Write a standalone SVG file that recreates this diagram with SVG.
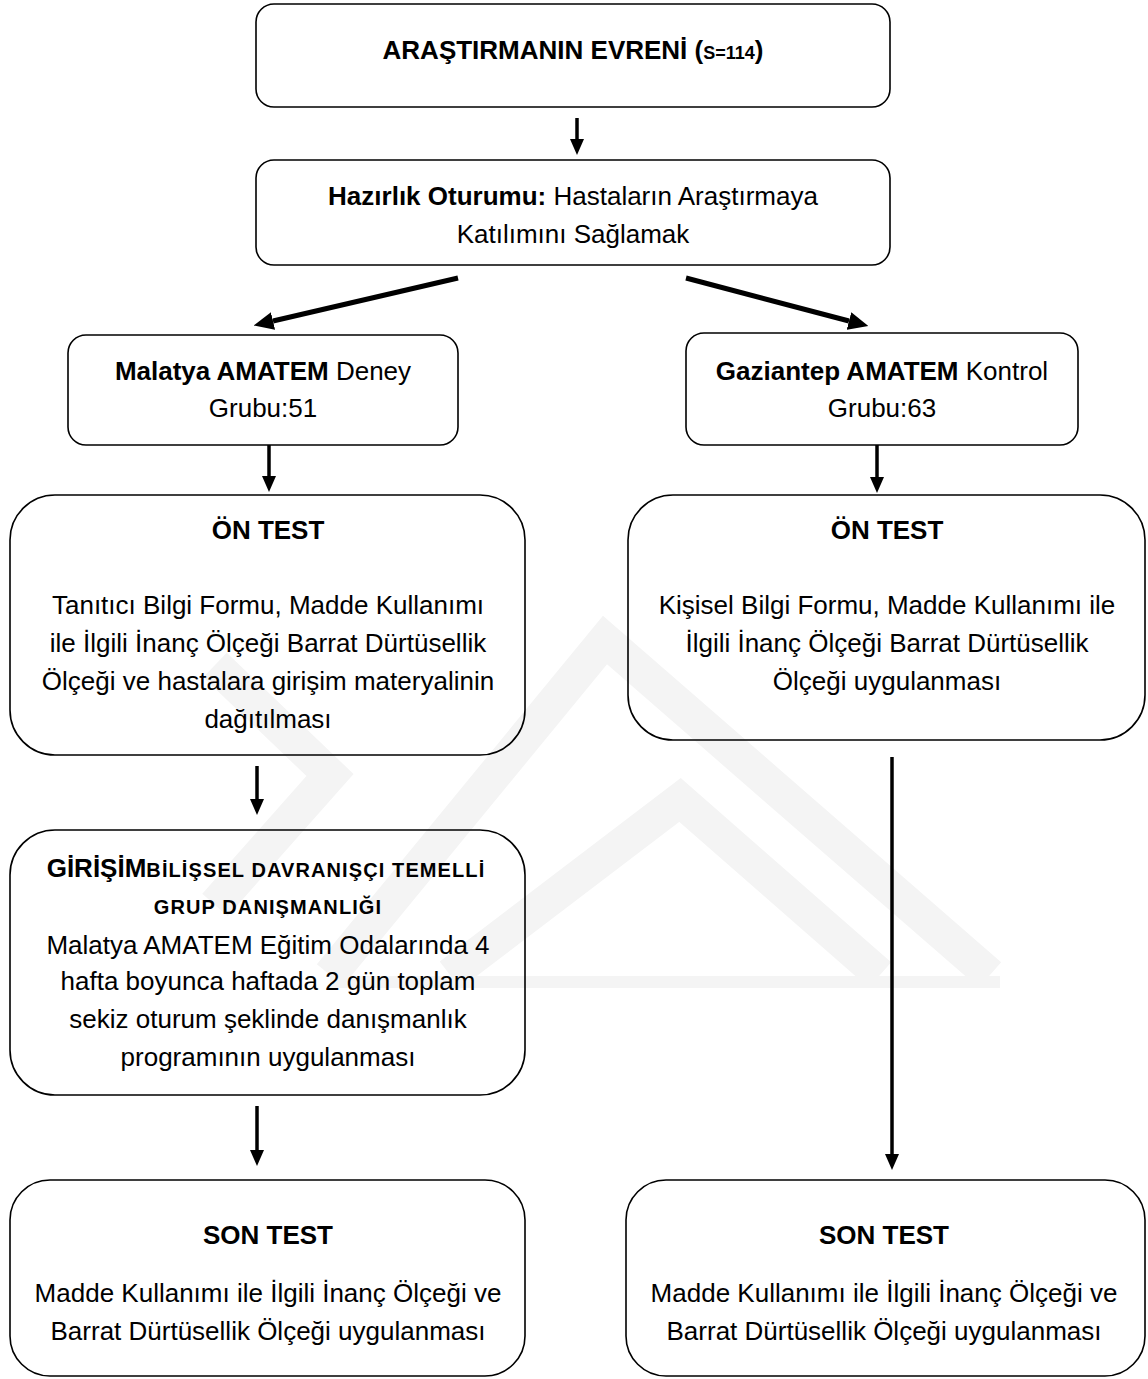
<svg xmlns="http://www.w3.org/2000/svg" width="1148" height="1379" viewBox="0 0 1148 1379">
<defs>
<style>
text{font-family:"Liberation Sans",Arial,sans-serif;font-size:26px;fill:#000;text-anchor:middle}
.b{font-weight:bold}
.sc{font-weight:bold;font-size:20px;letter-spacing:1.1px}
.box{fill:none;stroke:#000;stroke-width:1.6}
.ar{stroke:#000;stroke-width:3.5;fill:none;marker-end:url(#ah)}
.ard{stroke:#000;stroke-width:5;fill:none;marker-end:url(#ahd)}
.wm{fill:none;stroke:#f4f4f4;stroke-width:34;stroke-linejoin:miter}
</style>
<marker id="ah" markerUnits="userSpaceOnUse" markerWidth="16" markerHeight="14" refX="0" refY="7" orient="auto" viewBox="0 0 16 14"><path d="M0,0 L16,7 L0,14 z" fill="#000"/></marker>
<marker id="ahd" markerUnits="userSpaceOnUse" markerWidth="20" markerHeight="18" refX="0" refY="9" orient="auto" viewBox="0 0 20 18"><path d="M0,0 L20,9 L0,18 z" fill="#000"/></marker>
</defs>
<rect width="1148" height="1379" fill="#fff"/>
<g id="watermark">
<polyline class="wm" points="330,975 605,640 990,975"/>
<polyline class="wm" points="450,975 680,800 880,975"/>
<polyline class="wm" points="215,665 330,775 215,905"/>
<line x1="330" y1="982" x2="1000" y2="982" stroke="#f4f4f4" stroke-width="12"/>
</g>
<g id="connectors">
<line class="ar" x1="577" y1="118" x2="577" y2="139"/>
<line class="ard" x1="458" y1="278" x2="273" y2="321"/>
<line class="ard" x1="686" y1="278" x2="849" y2="321"/>
<line class="ar" x1="269" y1="445" x2="269" y2="476"/>
<line class="ar" x1="877" y1="445" x2="877" y2="477"/>
<line class="ar" x1="257" y1="766" x2="257" y2="799"/>
<line class="ar" x1="892" y1="757" x2="892" y2="1154"/>
<line class="ar" x1="257" y1="1106" x2="257" y2="1150"/>
</g>
<g id="n1">
<rect class="box" x="256" y="4" width="634" height="103" rx="18"/>
<text x="573" y="59" class="b">ARAŞTIRMANIN EVRENİ (<tspan font-size="18">S=114</tspan>)</text>
</g>
<g id="n2">
<rect class="box" x="256" y="160" width="634" height="105" rx="18"/>
<text x="573" y="205"><tspan class="b">Hazırlık Oturumu:</tspan> Hastaların Araştırmaya</text>
<text x="573" y="243">Katılımını Sağlamak</text>
</g>
<g id="n3">
<rect class="box" x="68" y="335" width="390" height="110" rx="18"/>
<text x="263" y="380"><tspan class="b">Malatya AMATEM</tspan> Deney</text>
<text x="263" y="417">Grubu:51</text>
</g>
<g id="n4">
<rect class="box" x="686" y="333" width="392" height="112" rx="18"/>
<text x="882" y="380"><tspan class="b">Gaziantep AMATEM</tspan> Kontrol</text>
<text x="882" y="417">Grubu:63</text>
</g>
<g id="n5">
<rect class="box" x="10" y="495" width="515" height="260" rx="45"/>
<text x="268" y="539" class="b">ÖN TEST</text>
<text x="268" y="614">Tanıtıcı Bilgi Formu, Madde Kullanımı</text>
<text x="268" y="652">ile İlgili İnanç Ölçeği Barrat Dürtüsellik</text>
<text x="268" y="690">Ölçeği ve hastalara girişim materyalinin</text>
<text x="268" y="728">dağıtılması</text>
</g>
<g id="n6">
<rect class="box" x="628" y="495" width="517" height="245" rx="45"/>
<text x="887" y="539" class="b">ÖN TEST</text>
<text x="887" y="614">Kişisel Bilgi Formu, Madde Kullanımı ile</text>
<text x="887" y="652">İlgili İnanç Ölçeği Barrat Dürtüsellik</text>
<text x="887" y="690">Ölçeği uygulanması</text>
</g>
<g id="n7">
<rect class="box" x="10" y="830" width="515" height="265" rx="45"/>
<text x="266" y="877"><tspan class="b">GİRİŞİM</tspan><tspan class="sc">BİLİŞSEL DAVRANIŞÇI TEMELLİ</tspan></text>
<text x="268" y="914" class="sc">GRUP DANIŞMANLIĞI</text>
<text x="268" y="954">Malatya AMATEM Eğitim Odalarında 4</text>
<text x="268" y="990">hafta boyunca haftada 2 gün toplam</text>
<text x="268" y="1028">sekiz oturum şeklinde danışmanlık</text>
<text x="268" y="1066">programının uygulanması</text>
</g>
<g id="n8">
<rect class="box" x="10" y="1180" width="515" height="196" rx="40"/>
<text x="268" y="1244" class="b">SON TEST</text>
<text x="268" y="1302">Madde Kullanımı ile İlgili İnanç Ölçeği ve</text>
<text x="268" y="1340">Barrat Dürtüsellik Ölçeği uygulanması</text>
</g>
<g id="n9">
<rect class="box" x="626" y="1180" width="519" height="196" rx="40"/>
<text x="884" y="1244" class="b">SON TEST</text>
<text x="884" y="1302">Madde Kullanımı ile İlgili İnanç Ölçeği ve</text>
<text x="884" y="1340">Barrat Dürtüsellik Ölçeği uygulanması</text>
</g>
</svg>
